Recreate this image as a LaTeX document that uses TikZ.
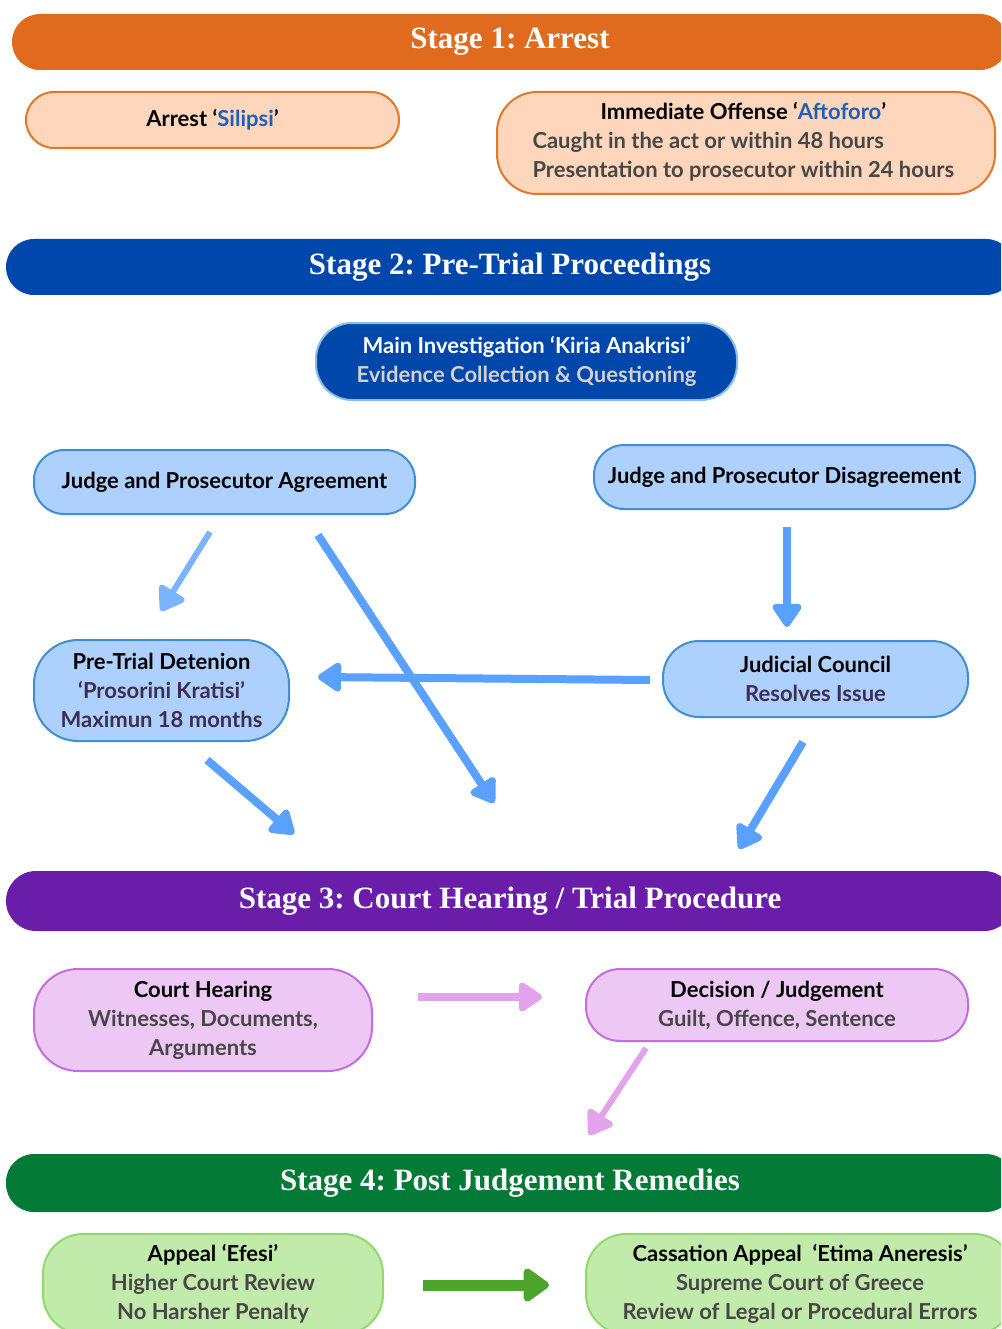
\documentclass[tikz,border=0pt]{standalone}
\usepackage{fontspec}
\setmainfont{Lato}
\newfontfamily\titlefont{Liberation Serif}
\usepackage{xcolor}
\usetikzlibrary{arrows.meta, positioning, calc}
\definecolor{arrestbar}{HTML}{E06B1F}
\definecolor{arrestfill}{HTML}{FDD6BC}
\definecolor{arrestline}{HTML}{E0782A}
\definecolor{pretrialbar}{HTML}{0047AB}
\definecolor{pretrialfill}{HTML}{AED0FC}
\definecolor{pretrialline}{HTML}{3D8FD6}
\definecolor{courtbar}{HTML}{6A1DA8}
\definecolor{courtfill}{HTML}{EDC8F5}
\definecolor{courtline}{HTML}{C46CE0}
\definecolor{remedybar}{HTML}{037A36}
\definecolor{remedyfill}{HTML}{C1EBAA}
\definecolor{remedyline}{HTML}{8FDA6B}
\definecolor{termblue}{HTML}{1F5FB8}
\definecolor{subgray}{HTML}{474747}
\definecolor{subpurple}{HTML}{3E2E52}
\definecolor{flowblue}{HTML}{5AA0FF}
\definecolor{flowpink}{HTML}{E2A3EC}
\definecolor{flowgreen}{HTML}{4DA62B}
\frenchspacing

\begin{document}
\begin{tikzpicture}[
    x=1pt, y=-1pt,
    stagebar/.style={rectangle, rounded corners=28pt, minimum height=56pt,
                     text=white, font=\titlefont\bfseries\fontsize{31}{34}\selectfont},
    stepbox/.style={rectangle, draw, line width=2pt, align=center,
                    font=\bfseries\fontsize{22}{29}\selectfont},
    arrestbox/.style={stepbox, draw=arrestline, fill=arrestfill, rounded corners=28pt},
    pretrialbox/.style={stepbox, draw=pretrialline, fill=pretrialfill, rounded corners=30pt},
    courtbox/.style={stepbox, draw=courtline, fill=courtfill, rounded corners=34pt},
    remedybox/.style={stepbox, draw=remedyline, fill=remedyfill, rounded corners=40pt},
    flow/.style={line width=8pt, flowblue, -{Triangle[length=26pt, width=33pt, round]}},
]
    \clip (0,0) rectangle (1001,1329);
    \fill[white] (0,0) rectangle (1001,1329);

    % Stage 1
    \node[stagebar, fill=arrestbar, minimum width=996pt] (stage1) at (510,42) {Stage 1: Arrest};
    \node[arrestbox, minimum width=373pt, minimum height=56pt] (arrest) at (212.5,120)
        {Arrest `\textcolor{termblue}{Silipsi}'};
    \node[arrestbox, minimum width=498pt, minimum height=102pt, rounded corners=40pt] (offense) at (746,143) {
        \begin{tabular}{@{}l@{}}
            \multicolumn{1}{@{}c@{}}{Immediate Offense `\textcolor{termblue}{Aftoforo}'} \\
            \textcolor{subgray}{Caught in the act or within 48 hours} \\
            \textcolor{subgray}{Presentation to prosecutor within 24 hours} \\
        \end{tabular}
    };

    % Stage 2
    \node[stagebar, fill=pretrialbar, minimum width=1008pt] (stage2) at (510,267) {Stage 2: Pre-Trial Proceedings};
    \node[stepbox, draw=pretrialline!60, fill=pretrialbar, text=white, rounded corners=36pt,
          minimum width=421pt, minimum height=77pt] (mainInv) at (526.5,361.5)
        {Main Investigation `Kiria Anakrisi'\\ \textcolor{black!18}{Evidence Collection \& Questioning}};
    \node[pretrialbox, minimum width=381pt, minimum height=64pt] (agree) at (224.5,482)
        {Judge and Prosecutor Agreement};
    \node[pretrialbox, minimum width=381pt, minimum height=64pt] (disagree) at (784.5,477)
        {Judge and Prosecutor Disagreement};
    \node[pretrialbox, minimum width=255pt, minimum height=101pt, rounded corners=44pt] (detain) at (161.5,690.5)
        {Pre-Trial Detenion\\ \textcolor{subpurple}{`Prosorini Kratisi'}\\ \textcolor{subpurple}{Maximun 18 months}};
    \node[pretrialbox, minimum width=305pt, minimum height=76pt, rounded corners=36pt] (council) at (815.5,679)
        {Judicial Council\\ \textcolor{subpurple}{Resolves Issue}};

    % Stage 2 arrow ends
    \coordinate (agreeL) at (210,532);
    \coordinate (detainT) at (161,611);
    \coordinate (agreeR) at (318,535);
    \coordinate (trialM) at (494,803);
    \coordinate (disagreeB) at (787,527);
    \coordinate (councilT) at (787,627);
    \coordinate (councilL) at (650,680);
    \coordinate (detainR) at (318,677);
    \coordinate (detainB) at (207,760);
    \coordinate (trialL) at (294,834);
    \coordinate (councilB) at (803,742);
    \coordinate (trialR) at (739,849);

    \draw[flow, line width=6pt, flowblue!80!white] (agreeL) -- (detainT);
    \draw[flow] (agreeR) -- (trialM);
    \draw[flow] (disagreeB) -- (councilT);
    \draw[flow] (councilL) -- (detainR);
    \draw[flow] (detainB) -- (trialL);
    \draw[flow] (councilB) -- (trialR);

    % Stage 3
    \node[stagebar, fill=courtbar, minimum height=60pt, rounded corners=30pt, minimum width=1008pt] (stage3) at (510,901)
        {Stage 3: Court Hearing / Trial Procedure};
    \node[courtbox, minimum width=338pt, minimum height=102pt, rounded corners=44pt] (hearing) at (203,1020)
        {Court Hearing\\ \textcolor{subgray}{Witnesses, Documents,}\\ \textcolor{subgray}{Arguments}};
    \node[courtbox, minimum width=382pt, minimum height=72pt] (decision) at (777,1005)
        {Decision / Judgement\\ \textcolor{subgray}{Guilt, Offence, Sentence}};

    \coordinate (hearingR) at (418,997);
    \coordinate (decisionL) at (542,997);
    \coordinate (decisionB) at (646,1048);
    \coordinate (remedyT) at (589,1135);

    \draw[flow, flowpink] (hearingR) -- (decisionL);
    \draw[flow, flowpink, line width=6pt] (decisionB) -- (remedyT);

    % Stage 4
    \node[stagebar, fill=remedybar, minimum height=58pt, minimum width=1008pt] (stage4) at (510,1183)
        {Stage 4: Post Judgement Remedies};
    \node[remedybox, minimum width=340pt, minimum height=100pt] (appeal) at (213,1284)
        {Appeal `Efesi'\\ \textcolor{subgray}{Higher Court Review}\\ \textcolor{subgray}{No Harsher Penalty}};
    \node[remedybox, minimum width=428pt, minimum height=100pt] (cassation) at (800,1284)
        {Cassation Appeal~ `Etima Aneresis'\\ \textcolor{subgray}{Supreme Court of Greece}\\ \textcolor{subgray}{Review of Legal or Procedural Errors}};

    \coordinate (appealR) at (423,1285);
    \coordinate (cassationL) at (549,1285);
    \draw[flow, flowgreen, line width=11pt, -{Triangle[length=28pt, width=38pt, round]}] (appealR) -- (cassationL);

\end{tikzpicture}
\end{document}
